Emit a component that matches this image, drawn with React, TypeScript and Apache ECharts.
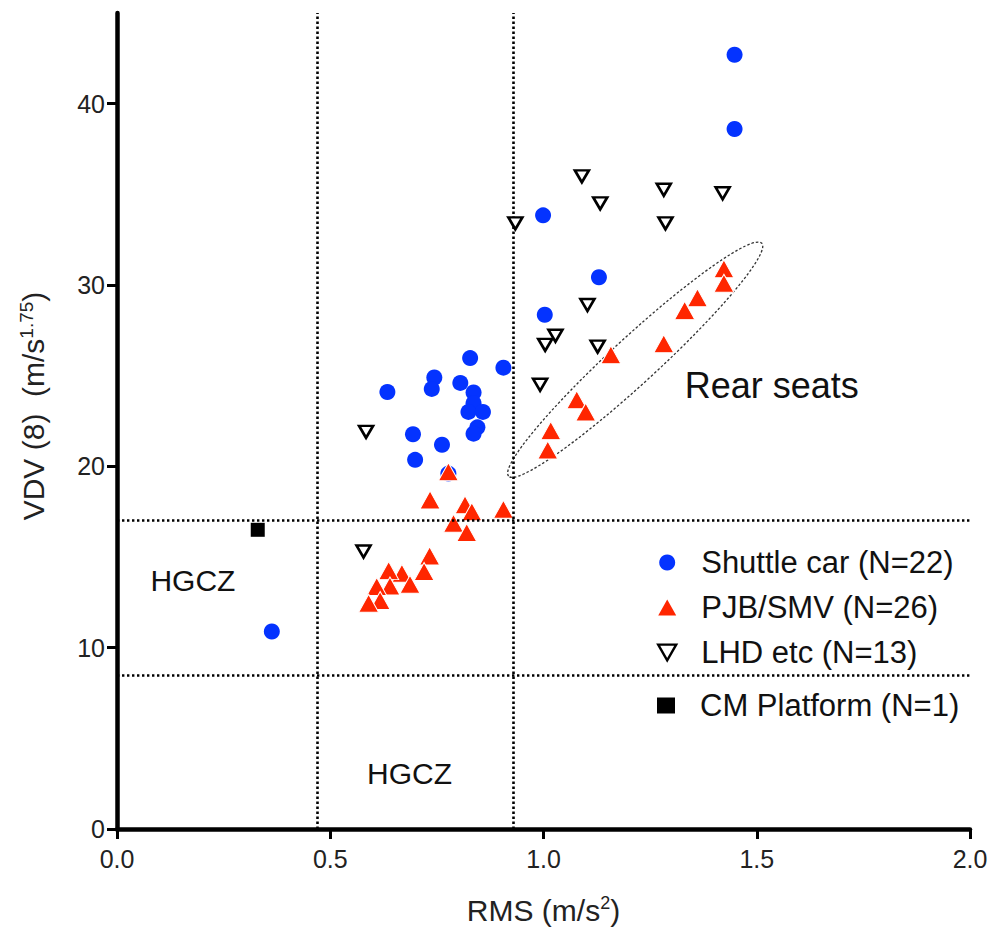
import React, { useEffect, useRef } from "react";
import * as echarts from "echarts";

// ---- data ----
const shuttleCar: [number, number][] = [
  [1.448, 42.7], [1.448, 38.6], [0.999, 33.84], [1.13, 30.43], [1.003, 28.36],
  [0.906, 25.44], [0.828, 25.97], [0.744, 24.9], [0.738, 24.27], [0.634, 24.1],
  [0.805, 24.6], [0.836, 24.07], [0.836, 23.48], [0.824, 23.0], [0.858, 23.0],
  [0.845, 22.15], [0.836, 21.8], [0.694, 21.77], [0.762, 21.19], [0.699, 20.36],
  [0.777, 19.6], [0.363, 10.89],
];
const pjbSmv: [number, number][] = [
  [1.423, 30.9], [1.423, 30.1], [1.361, 29.3], [1.331, 28.6], [1.282, 26.76],
  [1.158, 26.15], [1.078, 23.67], [1.099, 23.0], [1.017, 21.97], [1.01, 20.9],
  [0.777, 19.7], [0.734, 18.15], [0.816, 17.88], [0.832, 17.5], [0.906, 17.63],
  [0.789, 16.86], [0.82, 16.35], [0.733, 15.06], [0.72, 14.2], [0.668, 14.1],
  [0.687, 13.5], [0.637, 14.25], [0.64, 13.4], [0.609, 13.37], [0.617, 12.6],
  [0.59, 12.45],
];
const lhdEtc: [number, number][] = [
  [1.09, 35.99], [1.133, 34.5], [1.282, 35.25], [1.42, 35.06], [1.286, 33.4],
  [0.934, 33.4], [1.103, 28.9], [1.028, 27.2], [1.004, 26.7], [1.127, 26.6],
  [0.992, 24.5], [0.584, 21.9], [0.578, 15.3],
];
const cmPlatform: [number, number][] = [[0.33, 16.5]];

const seriesNames = [
  "Shuttle car (N=22)",
  "PJB/SMV (N=26)",
  "LHD etc (N=13)",
  "CM Platform (N=1)",
];
const hgczRms = [0.47, 0.93];
const hgczVdv = [8.5, 17];
const xTicks = [0, 0.5, 1.0, 1.5, 2.0];
const yTicks = [0, 10, 20, 30, 40];
const hgczLabelPos: [number, number][] = [[0.178, 13.7], [0.686, 3.08]];
const rearSeatsPos: [number, number] = [1.535, 24.45];
const rearEllipseCenter: [number, number] = [1.215, 25.88];

const FONT = "'Liberation Sans', Arial, Helvetica, sans-serif";

export default function App() {
  const ref = useRef<HTMLDivElement>(null);
  useEffect(() => {
    if (!ref.current) return;
    const chart = echarts.init(ref.current, null, { renderer: "svg" });
    const legendText = {
      fontFamily: FONT,
      fontSize: 31,
      color: "#111",
      lineHeight: 30,
      rich: {
        sp: { width: 20, fontSize: 31, fontFamily: FONT },
        t: { fontSize: 31, fontFamily: FONT, color: "#111" },
      },
    };
    const option: any = {
      animation: false,
      backgroundColor: "#fff",
      grid: { left: 117, right: 21, top: 13, bottom: 104, containLabel: false },
      xAxis: {
        type: "value",
        min: 0,
        max: 2,
        interval: 0.5,
        name: "{a|RMS (m/s}{s|2}{a|)}",
        nameLocation: "middle",
        nameGap: 65,
        nameTextStyle: {
          rich: {
            a: { fontFamily: FONT, fontSize: 30, color: "#222", lineHeight: 32 },
            s: { fontFamily: FONT, fontSize: 18, color: "#222", verticalAlign: "top", lineHeight: 32 },
          },
        },
        axisLine: { show: true, onZero: false, lineStyle: { color: "#000", width: 4.5 } },
        axisTick: {
          show: true,
          length: 10,
          lineStyle: { color: "#000", width: 3 },
          customValues: xTicks,
        },
        axisLabel: {
          fontFamily: FONT,
          fontSize: 25,
          color: "#222",
          margin: 17,
          customValues: xTicks,
          formatter: (v: number) => v.toFixed(1),
        },
        splitLine: { show: false },
      },
      yAxis: {
        type: "value",
        min: 0,
        max: 45,
        interval: 10,
        name: "{a|VDV (8)  (m/s}{s|1.75}{a|)}",
        nameLocation: "middle",
        nameRotate: 90,
        nameGap: 68,
        nameTextStyle: {
          padding: [0, 0, 0, 30],
          rich: {
            a: { fontFamily: FONT, fontSize: 30, color: "#222", lineHeight: 32 },
            s: { fontFamily: FONT, fontSize: 19, color: "#222", verticalAlign: "top", lineHeight: 32 },
          },
        },
        axisLine: { show: true, onZero: false, lineStyle: { color: "#000", width: 4.5 } },
        axisTick: {
          show: true,
          length: 10,
          lineStyle: { color: "#000", width: 3 },
          customValues: yTicks,
        },
        axisLabel: {
          fontFamily: FONT,
          fontSize: 25,
          color: "#222",
          margin: 12,
          customValues: yTicks,
        },
        splitLine: { show: false },
      },
      legend: [
        {
          orient: "vertical",
          left: 652,
          top: 542,
          itemWidth: 18,
          itemHeight: 16,
          itemGap: 14,
          data: [
            { name: seriesNames[0] },
            {
              name: seriesNames[1],
              icon: "path://M9,0L18,16L0,16Z",
              itemStyle: { color: "#ff2600", borderWidth: 0 },
            },
            {
              name: seriesNames[2],
              icon: "path://M0,0L16,0L8,14Z",
              itemStyle: { color: "#fff", borderColor: "#000", borderWidth: 2.4 },
            },
          ],
          textStyle: legendText,
          formatter: (n: string) => `{sp| }{t|${n}}`,
          selectedMode: false,
        },
        {
          orient: "vertical",
          left: 652,
          top: 685,
          itemWidth: 18,
          itemHeight: 16,
          data: seriesNames.slice(3),
          textStyle: legendText,
          formatter: (n: string) => `{sp| }{t|${n}}`,
          selectedMode: false,
        },
      ],
      series: [
        {
          name: "ref",
          type: "scatter",
          data: [],
          silent: true,
          z: 1,
          markLine: {
            silent: true,
            symbol: ["none", "none"],
            label: { show: false },
            emphasis: { disabled: true },
            lineStyle: { color: "#000", type: [2.4, 2.6], width: 2.6 },
            data: [
              ...hgczRms.map((v) => ({ xAxis: v })),
              ...hgczVdv.map((v) => ({ yAxis: v })),
            ],
          },
        },
        {
          name: seriesNames[0],
          type: "scatter",
          data: shuttleCar,
          symbol: "circle",
          symbolSize: 16,
          itemStyle: { color: "#0433ff", opacity: 1 },
          z: 3,
        },
        {
          name: seriesNames[1],
          type: "scatter",
          data: pjbSmv,
          symbol: "triangle",
          symbolSize: [20, 18],
          itemStyle: { color: "#ff2600", borderColor: "#fff", borderWidth: 1, opacity: 1 },
          z: 4,
        },
        {
          name: seriesNames[2],
          type: "scatter",
          data: lhdEtc,
          symbol: "triangle",
          symbolRotate: 180,
          symbolSize: [14, 12],
          itemStyle: { color: "#fff", borderColor: "#000", borderWidth: 2.6, opacity: 1 },
          z: 5,
        },
        {
          name: seriesNames[3],
          type: "scatter",
          data: cmPlatform,
          symbol: "rect",
          symbolSize: 14,
          itemStyle: { color: "#000", opacity: 1 },
          z: 5,
        },
      ],
    };
    chart.setOption(option);

    const toPx = (p: [number, number]) =>
      chart.convertToPixel({ gridIndex: 0 }, p) as number[];
    const c = toPx(rearEllipseCenter);
    const r = toPx(rearSeatsPos);
    const h1 = toPx(hgczLabelPos[0]);
    const h2 = toPx(hgczLabelPos[1]);
    const txt = (p: number[], s: string, size: number) => ({
      type: "text",
      x: p[0],
      y: p[1],
      silent: true,
      z: 10,
      style: {
        text: s,
        fill: "#111",
        font: `${size}px ${FONT}`,
        align: "center",
        verticalAlign: "middle",
      },
    });
    chart.setOption({
      graphic: [
        {
          type: "ellipse",
          x: c[0],
          y: c[1],
          rotation: (42.6 * Math.PI) / 180,
          shape: { cx: 0, cy: 0, rx: 172, ry: 23 },
          style: { fill: "none", stroke: "#333", lineWidth: 1.3, lineDash: [2.5, 2] },
          silent: true,
          z: 2,
        },
        txt(r, "Rear seats", 36),
        txt(h1, "HGCZ", 30),
        txt(h2, "HGCZ", 30),
      ],
    });
    return () => chart.dispose();
  }, []);
  return (
    <div
      ref={ref}
      style={{ position: "fixed", left: 0, top: 0, width: 991, height: 933, background: "#fff" }}
    />
  );
}
